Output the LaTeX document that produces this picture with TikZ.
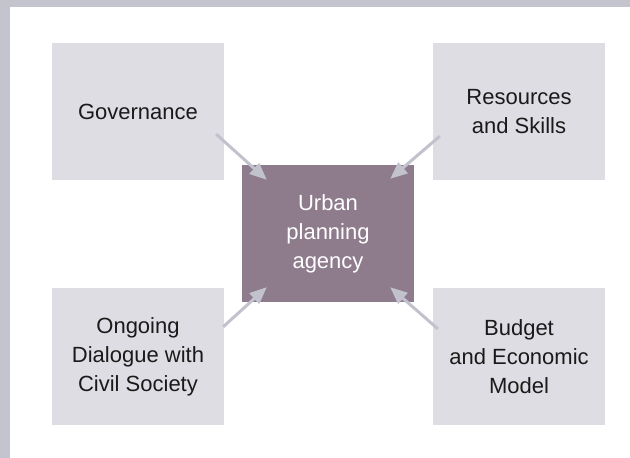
\documentclass[tikz,border=0pt]{standalone}
\usepackage{fontspec}
\setmainfont{Liberation Sans}
\usetikzlibrary{arrows.meta,calc}
\definecolor{bandgray}{HTML}{C4C4CF}
\definecolor{boxgray}{HTML}{DEDDE3}
\definecolor{hubpurple}{HTML}{8E7C8D}
\definecolor{arrowgray}{HTML}{C2C2CE}
\definecolor{textdark}{HTML}{1A1A1A}
\tikzset{
  factor/.style={rectangle, fill=boxgray, minimum width=172pt, minimum height=137pt,
    inner sep=0pt, align=center, text=textdark,
    font=\fontsize{22pt}{29pt}\selectfont},
  hub/.style={factor, fill=hubpurple, text=white},
  feed/.style={draw=arrowgray, line width=3pt, -{Triangle[length=17pt,width=14pt]}}
}
\begin{document}
\begin{tikzpicture}[x=1pt,y=-1pt]
  \useasboundingbox (0,0) rectangle (630,458);
  \fill[white] (0,0) rectangle (630,458);
  % frame bands along the top and left edges
  \fill[bandgray] (0,0) rectangle (630,7);
  \fill[bandgray] (0,0) rectangle (10,458);

  \node[factor] (gov) at (138,111.5) {Governance};
  \node[factor] (res) at (519,111.5) {Resources\\and Skills};
  \node[factor] (dia) at (138,356.5) {Ongoing\\Dialogue with\\Civil Society};
  \node[factor] (bud) at (519,356.5) {Budget\\and Economic\\Model};
  \node[hub] (upa) at (328,233.5) {Urban\\planning\\agency};

  \draw[feed] ($(gov.south east)+(-8,-46)$) -- ($(upa.north west)+(25,15)$);
  \draw[feed] ($(res.south west)+(7,-44)$) -- ($(upa.north east)+(-24,14)$);
  \draw[feed] ($(dia.north east)+(-1,39)$) -- ($(upa.south west)+(25,-15)$);
  \draw[feed] ($(bud.north west)+(5,41)$) -- ($(upa.south east)+(-24,-15)$);
\end{tikzpicture}
\end{document}
